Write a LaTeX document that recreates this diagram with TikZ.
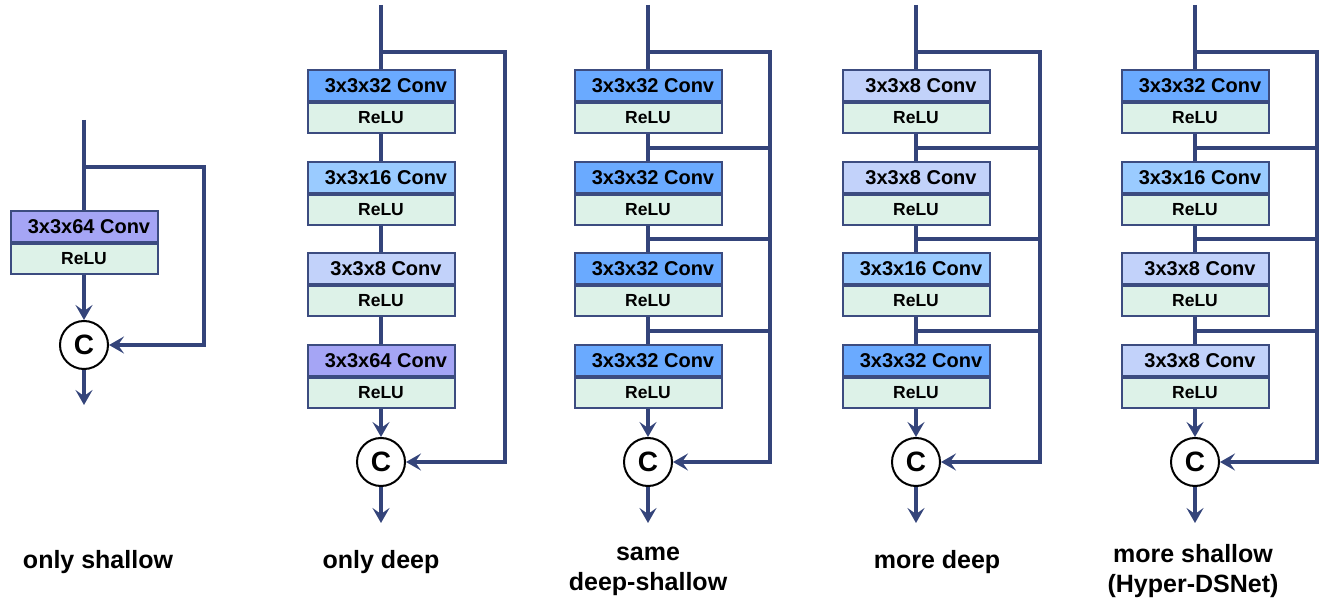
\documentclass[tikz,border=0pt]{standalone}
\usepackage{fontspec}
\setmainfont{Liberation Sans}
\usetikzlibrary{arrows.meta}

\definecolor{navy}{RGB}{52,68,122}
\definecolor{boxedge}{RGB}{60,76,128}
\definecolor{cpurple}{RGB}{165,165,245}
\definecolor{cblue}{RGB}{106,170,255}
\definecolor{cmid}{RGB}{154,203,255}
\definecolor{clight}{RGB}{194,210,250}
\definecolor{reluclr}{RGB}{221,242,232}

\tikzset{
  conv/.style={draw=boxedge, line width=2pt, minimum width=147pt, minimum height=31pt,
    inner sep=0pt, font=\bfseries\fontsize{20}{24}\selectfont},
  act/.style={draw=boxedge, fill=reluclr, line width=2pt, minimum width=147pt,
    minimum height=30pt, inner sep=0pt, anchor=north, font=\bfseries\fontsize{17.5}{21}\selectfont},
  cat/.style={circle, draw=black, line width=2pt, fill=white, minimum size=48pt,
    inner sep=0pt, font=\bfseries\fontsize{28}{30}\selectfont},
  wire/.style={draw=navy, line width=4.6pt},
  flow/.style={wire, -{Stealth[length=15pt,width=17pt,inset=6pt]}},
  caption/.style={font=\bfseries\fontsize{25}{30}\selectfont, align=center},
}

\begin{document}
\begin{tikzpicture}[x=1pt, y=-1pt]
\useasboundingbox (0,0) rectangle (1328,601);

% ---------- only shallow ----------
\coordinate (top1) at (84,120);
\coordinate (tap1) at (84,167);
\coordinate (side1) at (204,167);
\coordinate (out1) at (84,405);
\node[conv, fill=cpurple] (c1-1) at (84,226.5) {\hspace*{10pt}3x3x64 Conv};
\node[act] (r1-1) at (c1-1.south) {ReLU};
\node[cat] (k1) at (84,345) {C};
\draw[wire] (top1) -- (c1-1.north);
\draw[flow] (r1-1.south) -- (k1.north);
\draw[flow] (k1.south) -- (out1);
\draw[flow] (tap1) -- (side1) |- (k1.east);

% ---------- only deep ----------
\foreach \i/\y/\fc/\n in {1/85.5/cblue/3x3x32, 2/177.5/cmid/3x3x16,
                          3/268.5/clight/3x3x8, 4/360.5/cpurple/3x3x64} {
  \node[conv, fill=\fc] (c2-\i) at (381,\y) {\hspace*{10pt}\n\ Conv};
  \node[act] (r2-\i) at (c2-\i.south) {ReLU};
}
% ---------- same deep-shallow ----------
\foreach \i/\y/\fc/\n in {1/85.5/cblue/3x3x32, 2/177.5/cblue/3x3x32,
                          3/268.5/cblue/3x3x32, 4/360.5/cblue/3x3x32} {
  \node[conv, fill=\fc] (c3-\i) at (648,\y) {\hspace*{10pt}\n\ Conv};
  \node[act] (r3-\i) at (c3-\i.south) {ReLU};
}
% ---------- more deep ----------
\foreach \i/\y/\fc/\n in {1/85.5/clight/3x3x8, 2/177.5/clight/3x3x8,
                          3/268.5/cmid/3x3x16, 4/360.5/cblue/3x3x32} {
  \node[conv, fill=\fc] (c4-\i) at (916,\y) {\hspace*{10pt}\n\ Conv};
  \node[act] (r4-\i) at (c4-\i.south) {ReLU};
}
% ---------- more shallow (Hyper-DSNet) ----------
\foreach \i/\y/\fc/\n in {1/85.5/cblue/3x3x32, 2/177.5/cmid/3x3x16,
                          3/268.5/clight/3x3x8, 4/360.5/clight/3x3x8} {
  \node[conv, fill=\fc] (c5-\i) at (1195,\y) {\hspace*{10pt}\n\ Conv};
  \node[act] (r5-\i) at (c5-\i.south) {ReLU};
}

% trunk, concatenation and skip paths of the four deep columns
\foreach \k/\x/\rx in {2/381/505, 3/648/770, 4/916/1040, 5/1195/1317} {
  \coordinate (top\k) at (\x,5);
  \coordinate (tap\k) at (\x,52);
  \coordinate (side\k) at (\rx,52);
  \coordinate (out\k) at (\x,523);
  \node[cat] (k\k) at (\x,462) {C};
  \draw[wire] (top\k) -- (c\k-1.north);
  \draw[wire] (r\k-1.south) -- (c\k-2.north);
  \draw[wire] (r\k-2.south) -- (c\k-3.north);
  \draw[wire] (r\k-3.south) -- (c\k-4.north);
  \draw[flow] (r\k-4.south) -- (k\k.north);
  \draw[flow] (k\k.south) -- (out\k);
  \draw[flow] (tap\k) -- (side\k) |- (k\k.east);
}

% dense taps feeding the skip path after every block
\foreach \k/\x/\rx in {3/648/770, 4/916/1040, 5/1195/1317} {
  \foreach \j/\yb in {2/148, 3/239, 4/331} {
    \coordinate (tap\k-\j) at (\x,\yb);
    \coordinate (side\k-\j) at (\rx,\yb);
    \draw[wire] (tap\k-\j) -- (side\k-\j);
  }
}

% ---------- captions ----------
\node[caption] (t1) at (98,562) {only shallow};
\node[caption] (t2) at (381,562) {only deep};
\node[caption] (t3) at (648,571) {same\\deep-shallow};
\node[caption] (t4) at (937,562) {more deep};
\node[caption] (t5) at (1193,571) {more shallow\\(Hyper-DSNet)};
\end{tikzpicture}
\end{document}
